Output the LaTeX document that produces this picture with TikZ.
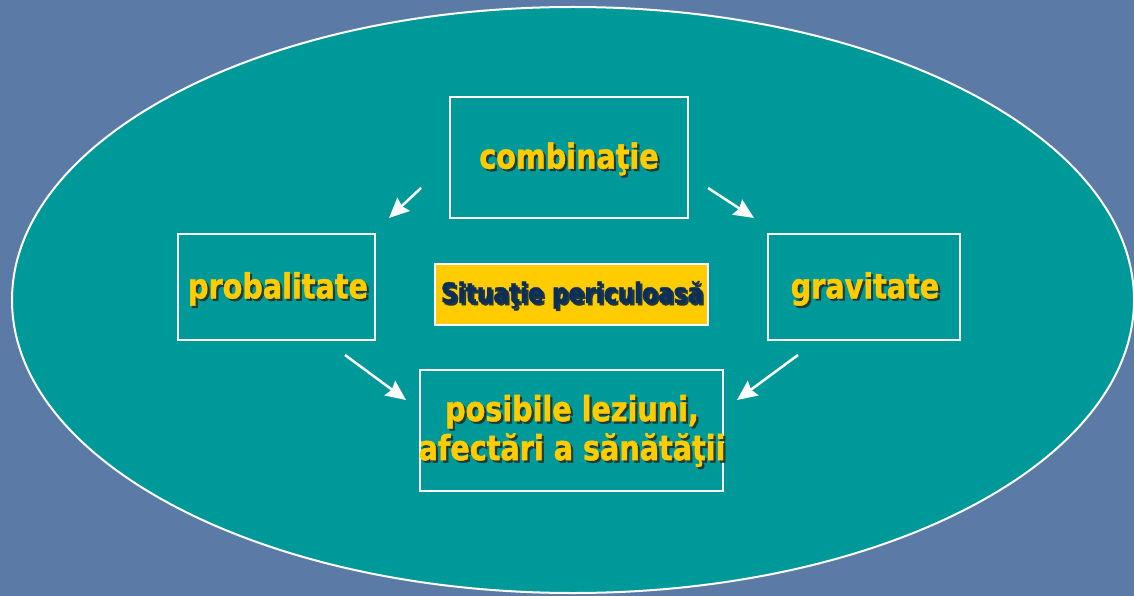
\documentclass[tikz,border=0pt]{standalone}
\usepackage{fontspec}
\setmainfont{DejaVu Sans}
\newfontfamily\tfont[FakeStretch=0.83,FakeBold=1.3]{DejaVu Sans Bold}
\usetikzlibrary{arrows.meta}
\definecolor{bgc}{HTML}{5B7BA6}
\definecolor{tealc}{HTML}{009999}
\definecolor{yel}{HTML}{FFCC00}
\definecolor{navy}{HTML}{0D2D5A}
\definecolor{shc}{HTML}{1E3A3A}
\newcommand\shd[1]{\makebox[0pt][l]{\kern2.2pt\raisebox{-2.2pt}{\textcolor{shc}{#1}}}#1}
\begin{document}
\begin{tikzpicture}[x=1pt,y=-1pt,
  boxst/.style={draw=white, line width=1.8pt, inner sep=0pt, anchor=center},
  lbl/.style={text=yel, font=\tfont\fontsize{34.5}{39}\selectfont, align=center, anchor=center},
  arr/.style={draw=white, line width=2.5pt, -{Stealth[length=20pt,width=18pt,inset=2.5pt]}}]
\fill[bgc] (0,0) rectangle (1134,596);
\useasboundingbox (0,0) rectangle (1134,596);
\draw[white, line width=2pt, fill=tealc] (573,300) ellipse [x radius=561pt, y radius=293pt];
% boxes
\node[boxst, minimum width=238pt, minimum height=121pt] (comb) at (569,157.5) {};
\node[boxst, minimum width=197pt, minimum height=106pt] (prob) at (276.5,287) {};
\node[boxst, minimum width=192pt, minimum height=106pt] (grav) at (864,287) {};
\node[boxst, fill=yel, line width=1.2pt, minimum width=273pt, minimum height=61pt] (sit) at (571.5,294.5) {};
\node[boxst, minimum width=303pt, minimum height=121pt] (pos) at (571.5,430.5) {};
% labels
\node[lbl] (tcomb) at (569,160) {\shd{combinaţie}};
\node[lbl] (tprob) at (278,290) {\shd{probalitate}};
\node[lbl] (tgrav) at (865,290) {\shd{gravitate}};
\node[lbl, text=navy, font=\tfont\fontsize{28}{32}\selectfont] (tsit) at (572,296) {\shd{Situaţie periculoasă}};
\node[lbl] (tpos) at (572,432) {\shd{posibile leziuni,}\\\shd{afectări a sănătăţii}};
% arrows
\coordinate (a1s) at (421,188); \coordinate (a1e) at (389,218);
\coordinate (a2s) at (708,188); \coordinate (a2e) at (754,218);
\coordinate (a3s) at (345,355); \coordinate (a3e) at (406,400);
\coordinate (a4s) at (798,355); \coordinate (a4e) at (737,400);
\draw[arr] (a1s) -- (a1e);
\draw[arr] (a2s) -- (a2e);
\draw[arr] (a3s) -- (a3e);
\draw[arr] (a4s) -- (a4e);
\end{tikzpicture}
\end{document}
